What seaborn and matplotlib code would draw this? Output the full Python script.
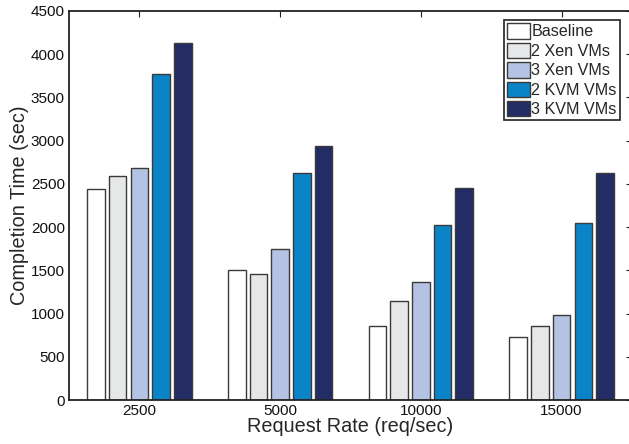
import matplotlib
matplotlib.use("Agg")
import matplotlib.pyplot as plt
import seaborn as sns
import pandas as pd

# Completion time (sec) per request rate for each VM configuration
rates = ["2500", "5000", "10000", "15000"]
configs = ["Baseline", "2 Xen VMs", "3 Xen VMs", "2 KVM VMs", "3 KVM VMs"]
baseline = [2438, 1505, 856, 733]
xen2 = [2596, 1458, 1146, 856]
xen3 = [2681, 1744, 1370, 988]
kvm2 = [3773, 2623, 2025, 2052]
kvm3 = [4132, 2940, 2450, 2631]
colors = ["#FFFFFF", "#E6E7E8", "#B4C3E4", "#0A84C6", "#232C65"]

series = [baseline, xen2, xen3, kvm2, kvm3]
rows = []
for cfg, vals in zip(configs, series):
    for r, v in zip(rates, vals):
        rows.append({"rate": r, "config": cfg, "time": v})
df = pd.DataFrame(rows)

sns.set_style("white")
plt.rcParams["font.family"] = ["Liberation Sans", "DejaVu Sans"]

fig = plt.figure(figsize=(6.29, 4.44), dpi=100)
ax = fig.add_axes([69 / 629, 44 / 444, 563 / 629, 389 / 444])

sns.barplot(data=df, x="rate", y="time", hue="config", order=rates,
            hue_order=configs, palette=colors, width=0.77, gap=0.19,
            edgecolor="#3a3a3a", linewidth=1.0, errorbar=None, ax=ax,
            saturation=1)

ax.set_xlim(-0.5, 3.5)
ax.set_ylim(0, 4500)
ax.set_yticks(range(0, 4501, 500))
ax.set_xlabel("Request Rate (req/sec)", fontsize=14.3, labelpad=-1)
ax.set_ylabel("Completion Time (sec)", fontsize=14.3, labelpad=1)
ax.tick_params(axis="both", labelsize=11, direction="in", top=True,
               right=True, length=4, width=0.8, colors="#222222", pad=3)
ax.tick_params(axis="both", labelcolor="#111111")
for s in ax.spines.values():
    s.set_color("#222222")
    s.set_linewidth(1.3)

leg = ax.legend(loc="upper right", bbox_to_anchor=(620 / 629, 1 - 20 / 444),
                bbox_transform=fig.transFigure, fontsize=11.6, frameon=True,
                fancybox=False, edgecolor="black", handlelength=1.4,
                handleheight=1.1, handletextpad=0.1, labelspacing=0.2,
                borderpad=0.2, borderaxespad=0)
leg.get_frame().set_linewidth(1.3)

fig.savefig("out.png", dpi=100)
